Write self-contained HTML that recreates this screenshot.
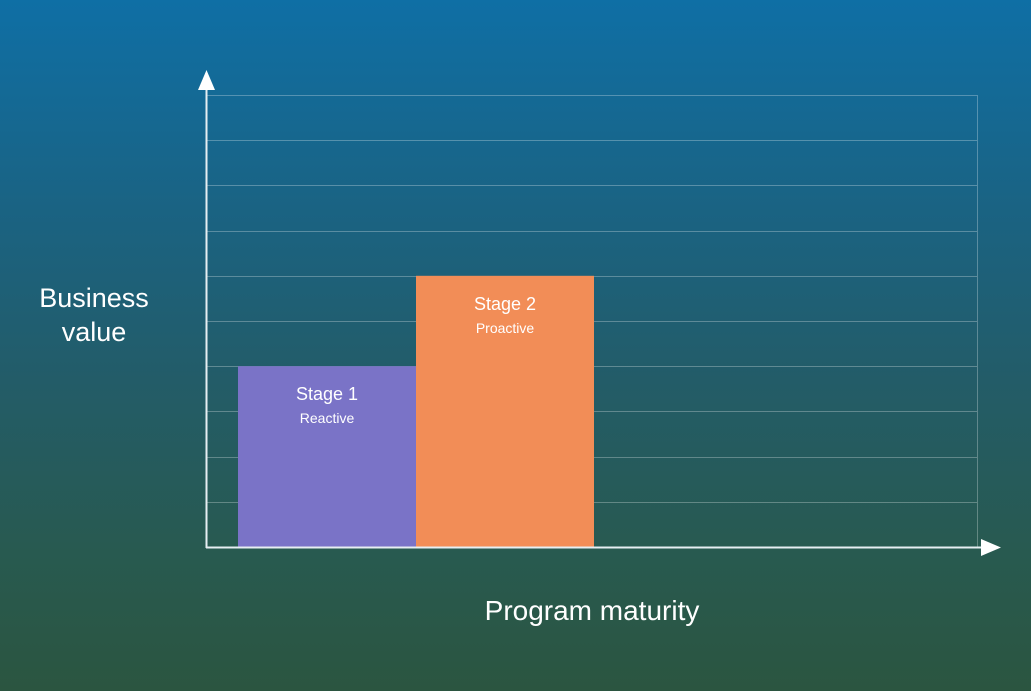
<!DOCTYPE html>
<html><head><meta charset="utf-8"><style>
html,body{margin:0;padding:0;}
body{width:1031px;height:691px;overflow:hidden;background:linear-gradient(to bottom,#0f6fa5 0%,#1a6383 30%,#235c68 55%,#285a50 80%,#2b5540 100%);font-family:"Liberation Sans",sans-serif;}
svg{display:block}
</style></head><body>
<svg width="1031" height="691">
<g id="grid"></g>
<g id="bars"></g>
<g>
<line x1="206.5" y1="86" x2="206.5" y2="548" stroke="#e6eef2" stroke-width="2"/>
<polygon points="206.5,70 198,90 215,90" fill="#fff"/>
<line x1="206" y1="547.5" x2="986" y2="547.5" stroke="#e6eef2" stroke-width="2"/>
<polygon points="1001,547.5 981,539 981,556" fill="#fff"/>
</g>
<text x="94" y="307" fill="#fff" font-size="27" text-anchor="middle">Business</text>
<text x="94" y="341" fill="#fff" font-size="27" text-anchor="middle">value</text>
<text x="592" y="620" fill="#fff" font-size="28" text-anchor="middle">Program maturity</text>
</svg>
<script>
const categories=["Stage 1","Stage 2"];
const subLabels=["Reactive","Proactive"];
const values=[4,6];
const colors=["#7a73c7","#f28d57"];
const yMax=10;
const x0=207,x1=977,y0=547,y1=95,barStart=238,barW=178;
function yS(v){return y0-(v/yMax)*(y0-y1);}
const ns="http://www.w3.org/2000/svg";
const grid=document.getElementById('grid');
for(let i=1;i<=yMax;i++){
 const l=document.createElementNS(ns,'line');
 
 
 const y=Math.round(yS(i))+0.5;
 l.setAttribute('x1',x0);l.setAttribute('x2',x1);l.setAttribute('y1',y);l.setAttribute('y2',y);
 l.setAttribute('stroke','rgba(255,255,255,0.28)');l.setAttribute('stroke-width','1');
 grid.appendChild(l);
}
const vl=document.createElementNS(ns,'line');


vl.setAttribute('x1',x1+0.5);vl.setAttribute('x2',x1+0.5);vl.setAttribute('y1',y1);vl.setAttribute('y2',y0);
vl.setAttribute('stroke','rgba(255,255,255,0.28)');
grid.appendChild(vl);
const bars=document.getElementById('bars');
categories.forEach((c,i)=>{
 const x=barStart+i*barW, top=yS(values[i]);
 const r=document.createElementNS(ns,'rect');
 
 
 r.setAttribute('x',x);r.setAttribute('y',top);r.setAttribute('width',barW);r.setAttribute('height',y0-top);
 r.setAttribute('fill',colors[i]);
 bars.appendChild(r);
 const t=document.createElementNS(ns,'text');
 
 
 t.setAttribute('x',x+barW/2);t.setAttribute('y',top+34);t.setAttribute('fill','#fff');
 t.setAttribute('font-size','18');t.setAttribute('text-anchor','middle');t.textContent=c;
 bars.appendChild(t);
 const s=document.createElementNS(ns,'text');
 
 
 s.setAttribute('x',x+barW/2);s.setAttribute('y',top+57);s.setAttribute('fill','#fff');
 s.setAttribute('font-size','14');s.setAttribute('text-anchor','middle');s.textContent=subLabels[i];
 bars.appendChild(s);
});
</script>
</body></html>
